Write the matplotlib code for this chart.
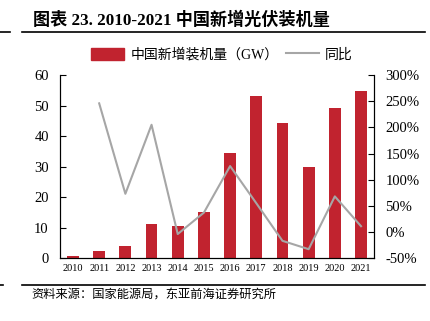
import matplotlib.pyplot as plt
import numpy as np
from matplotlib.lines import Line2D
from matplotlib.patches import Patch

years = ["2010", "2011", "2012", "2013", "2014", "2015", "2016", "2017", "2018", "2019", "2020", "2021"]
new_gw = [0.8, 2.3, 3.9, 11.1, 10.6, 15.2, 34.4, 53.1, 44.4, 29.8, 49.3, 54.9]
yoy = [None, 246, 73, 205, -4, 37, 126, 55, -17, -33, 68, 11]

fams = ["Liberation Serif", "Noto Sans CJK SC"]
plt.rcParams["font.family"] = fams

red = "#C1232F"
gray = "#A6A6A6"

fig = plt.figure(figsize=(4.31, 3.21), dpi=100)
ax = fig.add_axes([0.139, 0.196, 0.729, 0.570])
x = np.arange(len(years))
ax.bar(x, new_gw, width=0.45, color=red, zorder=2)
ax.set_xlim(-0.5, 11.5)
ax.set_ylim(0, 60)
ax.set_yticks(range(0, 61, 10))
ax.set_xticks(x)
ax.set_xticklabels(years, fontsize=7.5)
ax.tick_params(axis="x", length=0, pad=4)
ax.tick_params(axis="y", direction="in", length=4, labelsize=10.5, pad=8)
ax.spines["top"].set_visible(False)

ax2 = ax.twinx()
xs = [i for i, v in enumerate(yoy) if v is not None]
vs = [v for v in yoy if v is not None]
ax2.plot(xs, vs, color=gray, linewidth=1.5, zorder=3)
ax2.set_ylim(-50, 300)
ax2.set_yticks(range(-50, 301, 50))
ax2.set_yticklabels([f"{t}%" for t in range(-50, 301, 50)])
ax2.tick_params(axis="y", direction="in", length=4, labelsize=10.5, pad=8)
ax2.spines["top"].set_visible(False)

handles = [Patch(color=red), Line2D([0], [0], color=gray, linewidth=1.5)]
fig.legend(handles, ["中国新增装机量（GW）", "同比"], loc="center", bbox_to_anchor=(0.515, 0.829),
           ncol=2, frameon=False, handlelength=2.4, handleheight=0.9, handletextpad=0.45,
           columnspacing=0.5, prop={"family": fams, "size": 10})

fig.text(0.077, 0.937, "图表 23. 2010-2021 中国新增光伏装机量", fontsize=12.3, fontweight="bold", va="center")
fig.add_artist(Line2D([0.051, 0.986], [0.900, 0.900], color="black", linewidth=1.2))
fig.add_artist(Line2D([0.0, 0.023], [0.900, 0.900], color="black", linewidth=1.2))
fig.add_artist(Line2D([0.051, 0.986], [0.112, 0.112], color="black", linewidth=1.2))
fig.add_artist(Line2D([0.0, 0.008], [0.112, 0.112], color="black", linewidth=1.2))
fig.text(0.074, 0.078, "资料来源：国家能源局，东亚前海证券研究所", fontsize=8.8, va="center")

fig.savefig("out.png", dpi=100)
